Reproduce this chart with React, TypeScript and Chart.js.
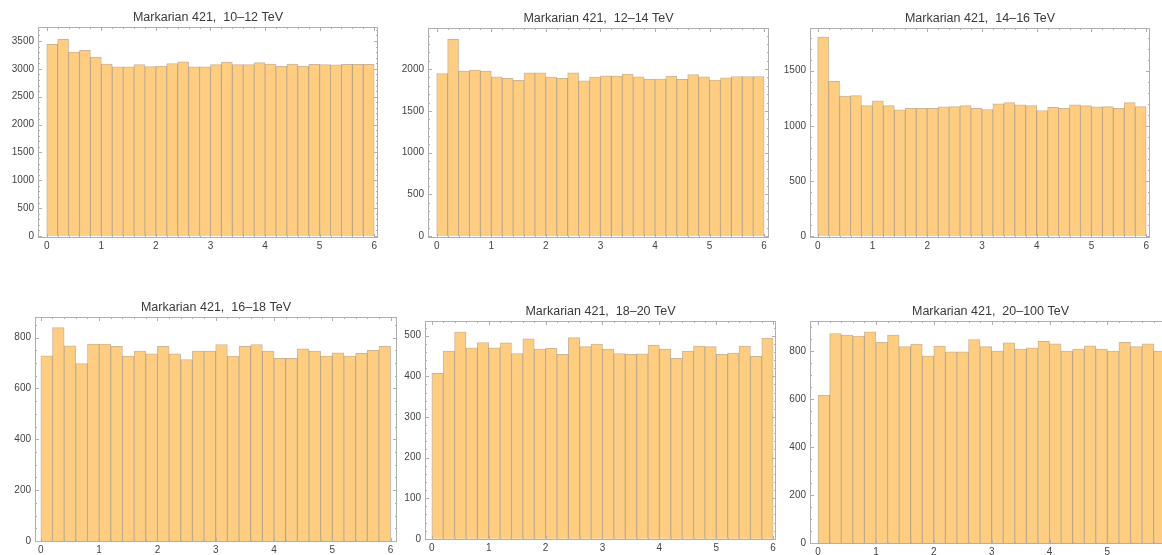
import { useEffect, useRef } from 'react';
import { Chart, registerables } from 'chart.js';

Chart.register(...registerables);

// ---- data ----
const binCenters = [
  0.1, 0.3, 0.5, 0.7, 0.9, 1.1, 1.3, 1.5, 1.7, 1.9,
  2.1, 2.3, 2.5, 2.7, 2.9, 3.1, 3.3, 3.5, 3.7, 3.9,
  4.1, 4.3, 4.5, 4.7, 4.9, 5.1, 5.3, 5.5, 5.7, 5.9,
];
const xTickValues = [0, 1, 2, 3, 4, 5, 6];

const titles = [
  'Markarian 421,  10\u201312 TeV',
  'Markarian 421,  12\u201314 TeV',
  'Markarian 421,  14\u201316 TeV',
  'Markarian 421,  16\u201318 TeV',
  'Markarian 421,  18\u201320 TeV',
  'Markarian 421,  20\u2013100 TeV',
];

const counts10to12 = [
  3440, 3530, 3300, 3330, 3210, 3085, 3035, 3035, 3075, 3040,
  3050, 3095, 3125, 3035, 3035, 3075, 3120, 3075, 3075, 3110,
  3085, 3045, 3085, 3050, 3080, 3075, 3070, 3080, 3080, 3080,
];
const counts12to14 = [
  1948, 2358, 1976, 1988, 1976, 1908, 1889, 1865, 1956, 1956,
  1905, 1889, 1956, 1861, 1905, 1920, 1916, 1940, 1908, 1881,
  1881, 1916, 1877, 1936, 1908, 1869, 1897, 1912, 1912, 1912,
];
const counts14to16 = [
  1805, 1405, 1271, 1274, 1184, 1226, 1184, 1145, 1160, 1160,
  1160, 1172, 1175, 1184, 1160, 1148, 1199, 1211, 1190, 1184,
  1139, 1169, 1160, 1190, 1184, 1172, 1175, 1160, 1211, 1175,
];
const counts16to18 = [
  728, 839, 768, 698, 774, 774, 766, 727, 747, 736,
  766, 736, 714, 747, 747, 773, 727, 766, 773, 747,
  718, 718, 756, 747, 727, 740, 727, 738, 750, 766,
];
const counts18to20 = [
  407, 462, 509, 470, 483, 470, 482, 456, 492, 467,
  469, 454, 495, 473, 479, 467, 456, 454, 455, 477,
  467, 444, 462, 474, 473, 454, 457, 474, 449, 494,
];
const counts20to100 = [
  615, 873, 866, 862, 880, 836, 866, 818, 829, 780,
  820, 797, 797, 848, 818, 800, 834, 808, 813, 840,
  830, 800, 808, 822, 808, 800, 836, 818, 830, 800,
];

const yTicks10to12 = [0, 500, 1000, 1500, 2000, 2500, 3000, 3500];
const yTicks12to14 = [0, 500, 1000, 1500, 2000];
const yTicks14to16 = [0, 500, 1000, 1500];
const yTicks16to18 = [0, 200, 400, 600, 800];
const yTicks18to20 = [0, 100, 200, 300, 400, 500];
const yTicks20to100 = [0, 200, 400, 600, 800];

// ---- layout / style ----
const Y_AXIS_W = 38;
const X_AXIS_H = 16;
const TITLE_H = 17.5;
const FONT = "'Liberation Sans', Arial, sans-serif";
const BAR_FILL = 'rgb(254, 205, 128)';
const BAR_EDGE = 'rgba(150, 112, 55, 0.5)';
const FRAME = 'rgb(175, 175, 175)';

type Frame = { l: number; t: number; r: number; b: number };
type PanelCfg = {
  title: string;
  counts: number[];
  yTicks: number[];
  yMinor: number;
  frame: Frame;
  xMin: number;
  xMax: number;
  yMin: number;
  yMax: number;
};

const panels: PanelCfg[] = [
  { title: titles[0], counts: counts10to12, yTicks: yTicks10to12, yMinor: 100, frame: { l: 38, t: 25, r: 378, b: 237 }, xMin: -0.16, xMax: 6.07, yMin: -36, yMax: 3750 },
  { title: titles[1], counts: counts12to14, yTicks: yTicks12to14, yMinor: 100, frame: { l: 428, t: 26, r: 769, b: 237 }, xMin: -0.16, xMax: 6.09, yMin: -24, yMax: 2493 },
  { title: titles[2], counts: counts14to16, yTicks: yTicks14to16, yMinor: 100, frame: { l: 810, t: 26, r: 1150, b: 237 }, xMin: -0.14, xMax: 6.07, yMin: -18, yMax: 1888 },
  { title: titles[3], counts: counts16to18, yTicks: yTicks16to18, yMinor: 50, frame: { l: 35, t: 315, r: 397, b: 541 }, xMin: -0.1, xMax: 6.11, yMin: -4, yMax: 881 },
  { title: titles[4], counts: counts18to20, yTicks: yTicks18to20, yMinor: 20, frame: { l: 425, t: 319, r: 776, b: 539 }, xMin: -0.12, xMax: 6.05, yMin: -3, yMax: 536 },
  { title: titles[5], counts: counts20to100, yTicks: yTicks20to100, yMinor: 50, frame: { l: 810, t: 319, r: 1171, b: 543 }, xMin: -0.14, xMax: 6.1, yMin: -4, yMax: 925 },
];

const framePlugin = {
  id: 'mmaFrame',
  afterDatasetsDraw(chart: any, _args: any, opts: any) {
    const { ctx, chartArea: a, scales } = chart;
    const x = scales.x;
    const y = scales.y;
    ctx.save();
    ctx.strokeStyle = FRAME;
    ctx.lineWidth = 1;
    ctx.strokeRect(a.left + 0.5, a.top + 0.5, a.width - 1, a.height - 1);
    ctx.beginPath();
    const tick = (len: number, px: number, vertical: boolean) => {
      const p = Math.round(px) + 0.5;
      if (vertical) {
        ctx.moveTo(p, a.bottom);
        ctx.lineTo(p, a.bottom - len);
        ctx.moveTo(p, a.top);
        ctx.lineTo(p, a.top + len);
      } else {
        ctx.moveTo(a.left, p);
        ctx.lineTo(a.left + len, p);
        ctx.moveTo(a.right, p);
        ctx.lineTo(a.right - len, p);
      }
    };
    for (let i = 0; i <= 30; i++) {
      const v = i * 0.2;
      const major = i % 5 === 0;
      const px = x.getPixelForValue(v);
      if (px <= a.right) tick(major ? 4 : 2, px, true);
    }
    const minor = opts.yMinor as number;
    const ticks = opts.yTicks as number[];
    const top = ticks[ticks.length - 1] + (ticks[1] - ticks[0]);
    for (let v = 0; v <= top; v += minor) {
      if (v > y.max) break;
      const major = ticks.some((t) => Math.abs(t - v) < 1e-6);
      tick(major ? 4 : 2, y.getPixelForValue(v), false);
    }
    ctx.stroke();
    ctx.restore();
  },
};

function Panel({ cfg }: { cfg: PanelCfg }) {
  const ref = useRef<HTMLCanvasElement | null>(null);
  const left = cfg.frame.l - Y_AXIS_W;
  const top = cfg.frame.t - TITLE_H;
  const width = Math.round(cfg.frame.r - left + 2);
  const height = Math.round(cfg.frame.b - top + X_AXIS_H);

  useEffect(() => {
    if (!ref.current) return;
    const chart = new Chart(ref.current, {
      type: 'bar',
      data: {
        datasets: [
          {
            data: binCenters.map((c, i) => ({ x: c, y: cfg.counts[i] })),
            backgroundColor: BAR_FILL,
            borderColor: BAR_EDGE,
            borderWidth: 1,
            borderSkipped: 'start',
            barPercentage: 1,
            categoryPercentage: 1,
          },
        ],
      },
      options: {
        animation: false,
        responsive: false,
        devicePixelRatio: 1,
        layout: { padding: { left: 0, top: 0, right: 2, bottom: 0 } },
        plugins: {
          legend: { display: false },
          tooltip: { enabled: false },
          title: {
            display: true,
            text: cfg.title,
            fullSize: false,
            color: '#3a3a3a',
            font: { family: FONT, size: 12.5, weight: 'normal', lineHeight: 1.2 },
            padding: { top: 2, bottom: 2 },
          },
          mmaFrame: { yMinor: cfg.yMinor, yTicks: cfg.yTicks },
        } as any,
        scales: {
          x: {
            type: 'linear',
            min: cfg.xMin,
            max: cfg.xMax,
            offset: false,
            grid: { display: false, drawTicks: false },
            border: { display: false },
            afterBuildTicks: (s: any) => {
              s.ticks = xTickValues.map((v) => ({ value: v }));
            },
            afterFit: (s: any) => {
              s.height = X_AXIS_H;
            },
            ticks: {
              padding: 2,
              color: '#444',
              font: { family: FONT, size: 10 },
              maxRotation: 0,
              autoSkip: false,
              callback: (v: any) => String(v),
            },
          },
          y: {
            type: 'linear',
            min: cfg.yMin,
            max: cfg.yMax,
            grid: { display: false, drawTicks: false },
            border: { display: false },
            afterBuildTicks: (s: any) => {
              s.ticks = cfg.yTicks.map((v) => ({ value: v }));
            },
            afterFit: (s: any) => {
              s.width = Y_AXIS_W;
            },
            ticks: {
              padding: 4,
              color: '#444',
              font: { family: FONT, size: 10 },
              autoSkip: false,
              callback: (v: any) => String(v),
            },
          },
        },
      },
      plugins: [framePlugin],
    });
    return () => chart.destroy();
  }, [cfg]);

  return (
    <canvas
      ref={ref}
      width={width}
      height={height}
      style={{ position: 'absolute', left, top, width, height }}
    />
  );
}

export default function App() {
  return (
    <div
      style={{
        position: 'fixed',
        left: 0,
        top: 0,
        width: 1162,
        height: 555,
        overflow: 'hidden',
        background: '#fff',
      }}
    >
      {panels.map((p, i) => (
        <Panel key={i} cfg={p} />
      ))}
    </div>
  );
}
